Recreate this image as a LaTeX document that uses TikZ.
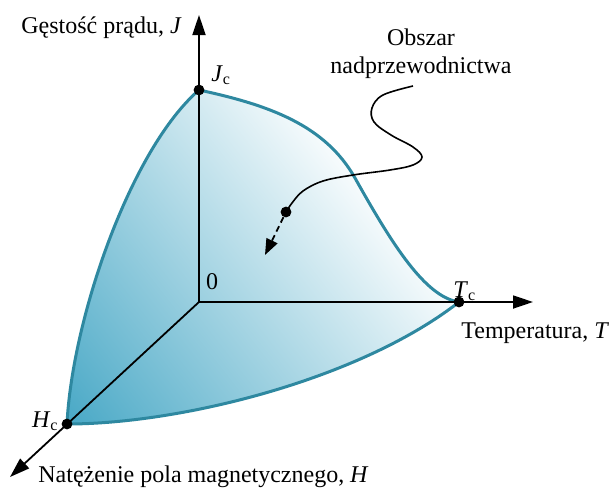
\documentclass[tikz,border=0pt]{standalone}
\usepackage{fontspec}
\setmainfont{Liberation Serif}
\usetikzlibrary{arrows.meta}
\definecolor{edgeteal}{RGB}{46,136,160}
\pgfdeclareverticalshading{surfshade}{100bp}{rgb(0bp)=(0.282,0.659,0.776); rgb(18.6bp)=(0.282,0.659,0.776); rgb(67bp)=(1,1,1); rgb(100bp)=(1,1,1)}
\begin{document}
\begin{tikzpicture}[x=0.5pt,y=-0.5pt, font=\fontsize{12}{14}\selectfont,
  axis/.style={line width=0.9pt, -{Triangle[length=10pt,width=6.5pt]}},
  pointdot/.style={circle, fill=black, inner sep=0pt, minimum size=5.4pt},
  edge/.style={draw=edgeteal, line width=1.5pt},
  lbl/.style={inner sep=0pt}]
\useasboundingbox (0,0) rectangle (616,488);
% surface fill
\begin{scope}
  \clip (199,90) .. controls (269,105) and (325,125) .. (355,178)
        .. controls (392,244) and (425,297) .. (459,302)
        .. controls (359,380) and (180,424) .. (67,424)
        .. controls (72,320) and (130,150) .. (199,90) -- cycle;
  \shade[shading=surfshade, shading angle=-52] (58,53) rectangle (468,463);
\end{scope}
\draw[edge, line join=round] (199,90) .. controls (269,105) and (325,125) .. (355,178)
        .. controls (392,244) and (425,297) .. (459,302)
        .. controls (359,380) and (180,424) .. (67,424)
        .. controls (72,320) and (130,150) .. (199,90) -- cycle;
% axes
\coordinate (O) at (199,302);
\coordinate (Jtip) at (199,15);
\coordinate (Ttip) at (533,302);
\coordinate (Htip) at (10,477);
\draw[axis] (O) -- (Jtip);
\draw[axis] (O) -- (Ttip);
\draw[axis] (O) -- (Htip);
% points
\node[pointdot] (Jc) at (199,90) {};
\node[pointdot] (Tc) at (459,302) {};
\node[pointdot] (Hc) at (67,424) {};
% region pointer
\coordinate (sq0) at (413,86);
\node[pointdot] (sqdot) at (286,212) {};
\coordinate (atip) at (265,255);
\draw[line width=0.8pt] plot[smooth, tension=0.6] coordinates {(sq0) (383,95) (372,108) (374,122) (391,135) (413,147) (422,157) (413,165) (390,170) (353,175) (323,181) (303,191) (292,203) (sqdot.center)};
\draw[line width=0.9pt, dash pattern=on 3pt off 2pt, -{Triangle[length=8pt,width=6pt]}] (sqdot) -- (atip);
% labels
\node[lbl, anchor=base east] (ylab) at (182,33) {Gęstość prądu, \textit{J}};
\node[lbl, anchor=base west] (jclab) at (211,81) {\textit{J}\textsubscript{c}};
\node[lbl] (zero) at (212,282) {0};
\node[lbl, anchor=base west] (tclab) at (453,297) {\textit{T}\textsubscript{c}};
\node[lbl, anchor=base west] (xlab) at (461,338) {Temperatura, \textit{T}};
\node[lbl, anchor=base east] (hclab) at (59,427) {\textit{H}\textsubscript{c}};
\node[lbl, anchor=base west] (hlab) at (38,482) {Natężenie pola magnetycznego, \textit{H}};
\node[lbl, anchor=base] (reg1) at (421,45) {Obszar};
\node[lbl, anchor=base] (reg2) at (421,73) {nadprzewodnictwa};
\end{tikzpicture}
\end{document}
